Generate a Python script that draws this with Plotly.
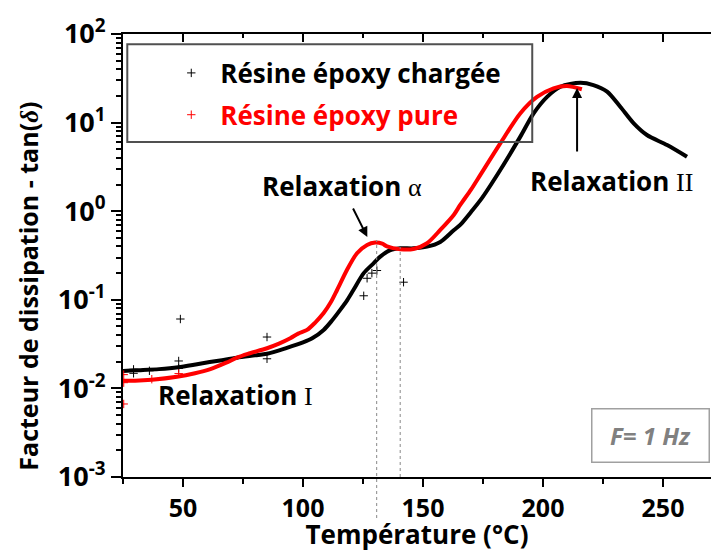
import plotly.graph_objects as go

# Dissipation factor tan(delta) vs temperature, F = 1 Hz
temp_chargee = [25, 30, 40, 48, 57, 65.5, 72.5, 80, 85, 93, 100, 104, 108.6, 112,
                115.5, 118.5, 121, 125.3, 129.4, 132.2, 136.4, 140.5, 146, 151.7,
                157.2, 162.8, 165.5, 170, 174, 182.2, 190.5, 196.1, 201.7, 207.3,
                215.5, 221, 226.7, 232.2, 237.8, 243.3, 251.7, 260]
tan_chargee = [0.0157, 0.0160, 0.0165, 0.0173, 0.0190, 0.0207, 0.0222, 0.0236, 0.0246,
               0.0285, 0.033, 0.037, 0.0457, 0.058, 0.077, 0.100, 0.129, 0.20, 0.258,
               0.307, 0.363, 0.381, 0.381, 0.398, 0.45, 0.61, 0.70, 0.98, 1.34, 2.92,
               6.9, 12.7, 19.5, 25.4, 28.1, 26.5, 22.4, 15.1, 9.8, 7.24, 5.58, 4.12]

temp_pure = [25, 30, 37, 47.5, 55, 61.4, 68, 72.5, 77, 85, 90, 94.7, 98, 101.7, 105,
             108.6, 111.5, 114.2, 118.3, 122.5, 126.7, 130.1, 133, 135, 140.5, 146,
             151.7, 157.2, 162.8, 165.5, 170, 173.9, 182.2, 190.5, 197.5, 204.4,
             210, 216.2]
tan_pure = [0.0122, 0.0122, 0.0125, 0.0135, 0.0148, 0.0165, 0.0195, 0.0222, 0.0245,
            0.0284, 0.032, 0.0368, 0.0415, 0.0457, 0.055, 0.0708, 0.093, 0.129, 0.217,
            0.335, 0.416, 0.442, 0.43, 0.40, 0.372, 0.374, 0.435, 0.614, 0.906, 1.175,
            1.75, 2.57, 5.83, 12.7, 19.5, 24.4, 25.9, 23.8]

# Scattered individual measurement points
pts_chargee_t = [29.4, 29.4, 36, 48.9, 48.2, 48.2, 85, 85, 125.3, 126.7, 128.7, 130.8, 141.9]
pts_chargee_v = [0.0164, 0.0148, 0.0158, 0.0607, 0.0204, 0.0168, 0.038, 0.0216, 0.111,
                 0.175, 0.20, 0.214, 0.158]
pts_pure_t = [25.3, 25.3, 25.3, 37, 48.2]
pts_pure_v = [0.00667, 0.0116, 0.0143, 0.0127, 0.0147]

x_ticks = [50, 100, 150, 200, 250]
y_ticks = [1e-3, 1e-2, 1e-1, 1e0, 1e1, 1e2]
y_ticktext = ["10<sup>-3</sup>", "10<sup>-2</sup>", "10<sup>-1</sup>",
              "10<sup>0</sup>", "10<sup>1</sup>", "10<sup>2</sup>"]

FONT = "Open Sans"
BOLD = dict(family=FONT, color="black", weight="bold")
SERIF = "font-family:'Liberation Serif';font-weight:normal"

fig = go.Figure()

fig.add_trace(go.Scatter(
    x=temp_chargee, y=tan_chargee, mode="lines", showlegend=False,
    line=dict(color="black", width=4, shape="spline", smoothing=0.8)))
fig.add_trace(go.Scatter(
    x=temp_pure, y=tan_pure, mode="lines", showlegend=False,
    line=dict(color="#ff0000", width=4, shape="spline", smoothing=0.8)))

fig.add_trace(go.Scatter(
    x=pts_chargee_t, y=pts_chargee_v, mode="markers", legendgroup="a",
    name="Résine époxy chargée",
    marker=dict(symbol="cross-thin", size=6, line=dict(width=1, color="black"))))
fig.add_trace(go.Scatter(
    x=pts_pure_t, y=pts_pure_v, mode="markers", legendgroup="b",
    name="<span style='color:#ff0000'>Résine époxy pure</span>",
    marker=dict(symbol="cross-thin", size=6, line=dict(width=1, color="#ff0000"))))

# empty trace so the top axis is drawn
fig.add_trace(go.Scatter(x=[], y=[], xaxis="x2", showlegend=False))

fig.update_layout(
    width=712, height=552,
    margin=dict(l=123, r=1, t=34, b=75),
    paper_bgcolor="white", plot_bgcolor="white",
    font=dict(family=FONT, color="black"),
    xaxis=dict(
        range=[25, 270], showgrid=False, zeroline=False,
        showline=True, linecolor="black", linewidth=2,
        tickmode="array", tickvals=x_ticks,
        ticks="outside", ticklen=8, tickwidth=2, tickcolor="black",
        minor=dict(tickmode="array", tickvals=[25, 75, 125, 175, 225],
                   ticks="outside", ticklen=5, tickwidth=2, tickcolor="black"),
        tickfont=dict(size=25, **BOLD),
        title=dict(text="Température (°C)", font=dict(size=26, **BOLD), standoff=4),
    ),
    xaxis2=dict(
        overlaying="x", side="top", anchor="y", matches="x",
        range=[25, 270], showgrid=False, zeroline=False,
        showline=True, linecolor="black", linewidth=2,
        tickmode="array", tickvals=x_ticks, showticklabels=False,
        ticks="inside", ticklen=8, tickwidth=2, tickcolor="black",
        minor=dict(tickmode="array", tickvals=[75, 125, 175, 225],
                   ticks="inside", ticklen=4, tickwidth=2, tickcolor="black"),
    ),
    yaxis=dict(
        type="log", range=[-3, 2], showgrid=False, zeroline=False,
        showline=True, linecolor="black", linewidth=2,
        tickmode="array", tickvals=y_ticks, ticktext=y_ticktext,
        ticks="outside", ticklen=10, tickwidth=2, tickcolor="black",
        minor=dict(ticks="outside", ticklen=5, tickwidth=1.5, tickcolor="black", dtick="D1"),
        tickfont=dict(size=27, **BOLD),
    ),
    legend=dict(
        x=0.0668, y=0.965, xanchor="left", yanchor="top",
        bgcolor="rgba(0,0,0,0)", borderwidth=0, itemwidth=48,
        tracegroupgap=5,
        font=dict(size=26, **BOLD),
    ),
)

# y-axis title
fig.add_annotation(xref="paper", yref="paper", x=-0.163, y=0.43,
                   xanchor="center", yanchor="middle", textangle=-90, showarrow=False,
                   text="Facteur de dissipation - tan(<span style=\"font-family:'Liberation Serif';font-style:italic\">δ</span>)",
                   font=dict(size=25, **BOLD))

# legend frame
fig.add_shape(type="rect", xref="paper", yref="paper",
              x0=0.0073, x1=0.696, y0=0.756, y1=0.977,
              line=dict(color="#505050", width=2), fillcolor="rgba(0,0,0,0)")

# frequency label in its frame
fig.add_annotation(xref="paper", yref="paper", x=0.897, y=0.0926,
                   xanchor="center", yanchor="middle", showarrow=False,
                   text="<i>F= 1 Hz</i>", width=112, height=48,
                   bordercolor="#a0a0a0", borderwidth=1.5, borderpad=2,
                   bgcolor="white",
                   font=dict(family=FONT, size=24, color="#808080", weight="bold"))

# dotted markers at the alpha relaxation
fig.add_shape(type="line", xref="x", yref="paper", x0=130.7, x1=130.7,
              y0=-0.0926, y1=0.535, line=dict(color="#888888", width=1, dash="dot"))
fig.add_shape(type="line", xref="x", yref="paper", x0=140.5, x1=140.5,
              y0=0.0, y1=0.519, line=dict(color="#888888", width=1, dash="dot"))

# relaxation labels
fig.add_annotation(x=116.2, y=0.284, showarrow=False,
                   text=f"Relaxation <span style=\"{SERIF}\">α</span>",
                   font=dict(size=26, **BOLD))
fig.add_annotation(x=126.8, y=-0.291, ax=-15, ay=-30, text="", showarrow=True,
                   arrowhead=2, arrowsize=1, arrowwidth=2, arrowcolor="black")

fig.add_annotation(x=228.5, y=0.341, showarrow=False,
                   text=f"Relaxation <span style=\"{SERIF}\">II</span>",
                   font=dict(size=26, **BOLD))
fig.add_annotation(x=214.2, y=1.39, ax=0, ay=65, text="", showarrow=True,
                   arrowhead=2, arrowsize=1, arrowwidth=2, arrowcolor="black")

fig.add_annotation(x=71.8, y=-2.075, showarrow=False,
                   text=f"Relaxation <span style=\"{SERIF}\">I</span>",
                   font=dict(size=26, **BOLD))

fig.write_html("out.html")
